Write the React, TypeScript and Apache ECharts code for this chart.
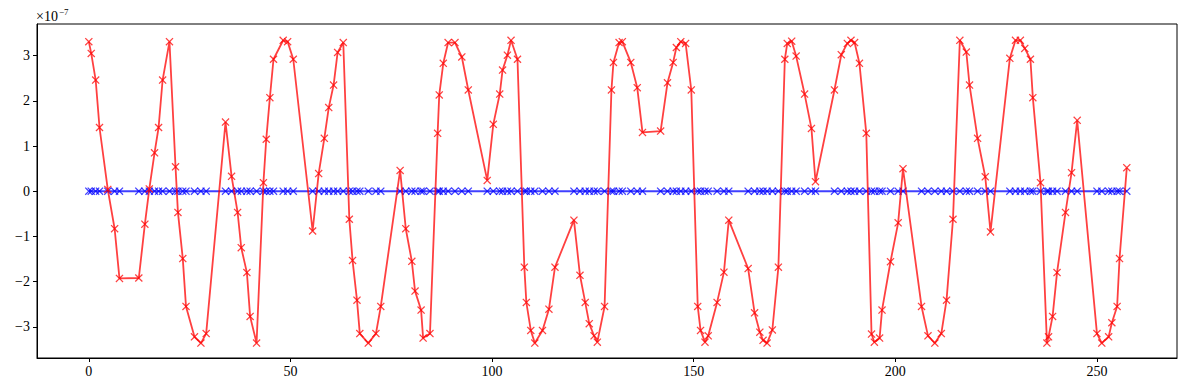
import React, { useEffect, useRef } from "react";
import * as echarts from "echarts";

// sample positions (shared by both series)
const xs = [
  0, 0.6, 1.7, 2.65, 4.7, 6.4, 7.6,
  12.4, 13.9, 15.0, 16.3, 17.3, 18.3, 20.0,
  21.5, 22.1, 23.3, 24.1, 26.2, 27.8, 29.1,
  33.9, 35.4, 36.9, 37.8, 39.2, 40.0, 41.6,
  43.3, 44.0, 44.9, 45.8, 48.2, 49.3, 50.7,
  55.5, 57.0, 58.4, 59.5, 60.7, 61.7, 63.1,
  64.6, 65.4, 66.5, 67.2, 69.3, 71.2, 72.4,
  77.2, 78.6, 80.1, 80.9, 82.4, 82.9, 84.6,
  86.5, 86.9, 87.9, 89.1, 90.8, 92.5, 94.1,
  98.8, 100.3, 101.9, 102.6, 103.8, 104.7, 106.3,
  108.0, 108.5, 109.6, 110.6, 112.5, 114.1, 115.6,
  120.3, 121.8, 123.1, 124.1, 125.3, 126.1, 127.9,
  129.6, 130.1, 131.5, 132.3, 134.4, 136.0, 137.3,
  141.8, 143.5, 144.9, 145.7, 146.8, 148.0, 149.4,
  151.0, 151.7, 152.8, 153.6, 155.8, 157.5, 158.7,
  163.5, 165.1, 166.4, 167.2, 168.2, 169.5, 171.0,
  172.6, 173.2, 174.3, 175.4, 177.5, 179.2, 180.2,
  184.9, 186.6, 188.1, 189.0, 189.9, 191.1, 192.8,
  194.1, 194.8, 196.1, 196.7, 198.8, 200.7, 201.9,
  206.5, 208.1, 209.8, 211.4, 212.7, 214.3, 216.0,
  217.6, 218.4, 220.4, 222.3, 223.6, 228.4, 229.8,
  231.0, 232.1, 233.5, 234.1, 236.0, 237.6, 238.0,
  239.0, 240.1, 242.2, 243.7, 245.1, 250.0, 251.2,
  252.9, 253.7, 255.0, 255.6, 257.4,
];

// red series, in units of 1e-7
const redE7 = [
  3.31, 3.05, 2.46, 1.41, 0.04, -0.83, -1.93,
  -1.92, -0.73, 0.05, 0.85, 1.41, 2.46, 3.31,
  0.54, -0.47, -1.49, -2.55, -3.22, -3.36, -3.15,
  1.53, 0.33, -0.47, -1.25, -1.8, -2.77, -3.36,
  0.19, 1.15, 2.07, 2.92, 3.34, 3.31, 2.92,
  -0.88, 0.39, 1.17, 1.85, 2.35, 3.07, 3.29,
  -0.62, -1.53, -2.41, -3.15, -3.36, -3.15, -2.55,
  0.46, -0.83, -1.55, -2.21, -2.63, -3.25, -3.15,
  1.28, 2.13, 2.83, 3.29, 3.29, 2.97, 2.24,
  0.24, 1.48, 2.15, 2.68, 3.01, 3.34, 2.92,
  -1.68, -2.46, -3.08, -3.36, -3.08, -2.61, -1.68,
  -0.64, -1.86, -2.46, -2.93, -3.2, -3.34, -2.55,
  2.24, 2.85, 3.29, 3.31, 2.85, 2.29, 1.3,
  1.33, 2.4, 2.85, 3.18, 3.31, 3.27, 2.24,
  -2.55, -3.08, -3.34, -3.2, -2.46, -1.79, -0.64,
  -1.71, -2.69, -3.12, -3.3, -3.36, -3.07, -1.68,
  2.92, 3.27, 3.32, 2.99, 2.15, 1.39, 0.21,
  2.24, 3.02, 3.27, 3.34, 3.29, 2.83, 1.28,
  -3.16, -3.34, -3.25, -2.63, -1.56, -0.7, 0.5,
  -2.55, -3.2, -3.36, -3.15, -2.41, -0.62, 3.34,
  3.08, 2.35, 1.17, 0.32, -0.9, 2.94, 3.34,
  3.34, 3.16, 2.92, 2.07, 0.19, -3.36, -3.22,
  -2.77, -1.8, -0.47, 0.41, 1.57, -3.15, -3.36,
  -3.22, -2.91, -2.55, -1.49, 0.52,
];

// blue series, in units of 1e-7
const blueE7 = xs.map(() => 0);

const xTicks = [0, 50, 100, 150, 200, 250];
const yTicks = [-3, -2, -1, 0, 1, 2, 3];

const FONT = "'Liberation Serif', 'DejaVu Serif', serif";
const XMARK =
  "path://M1.1,0 L5,3.9 L8.9,0 L10,1.1 L6.1,5 L10,8.9 L8.9,10 L5,6.1 L1.1,10 L0,8.9 L3.9,5 L0,1.1 Z";

export default function App() {
  const ref = useRef<HTMLDivElement>(null);
  useEffect(() => {
    if (!ref.current) return;
    const chart = echarts.init(ref.current, undefined, { renderer: "svg" });
    const red = xs.map((x, i) => [x, redE7[i]]);
    const blue = xs.map((x, i) => [x, blueE7[i]]);
    chart.setOption({
      animation: false,
      backgroundColor: "#fff",
      grid: {
        left: 37,
        right: 12,
        top: 24,
        bottom: 32,
        show: true,
        borderColor: "#000",
        borderWidth: 1,
        backgroundColor: "transparent",
      },
      xAxis: {
        type: "value",
        min: -12.85,
        max: 269.85,
        splitLine: { show: false },
        axisLine: { onZero: false, lineStyle: { color: "#000", width: 1 } },
        axisTick: {
          show: true,
          length: 4,
          inside: false,
          customValues: xTicks,
          lineStyle: { color: "#000" },
        },
        axisLabel: {
          customValues: xTicks,
          color: "#000",
          fontFamily: FONT,
          fontSize: 14,
          margin: 6,
        },
      },
      yAxis: {
        type: "value",
        min: -3.69,
        max: 3.7,
        splitLine: { show: false },
        axisLine: { onZero: false, lineStyle: { color: "#000", width: 1 } },
        axisTick: {
          show: true,
          length: 4,
          inside: false,
          customValues: yTicks,
          lineStyle: { color: "#000" },
        },
        axisLabel: {
          customValues: yTicks,
          color: "#000",
          fontFamily: FONT,
          fontSize: 14,
          margin: 7,
          formatter: (v: number) => (v < 0 ? "\u2212" + Math.abs(v) : String(v)),
        },
      },
      graphic: [
        {
          type: "text",
          left: 36,
          top: 9,
          style: { text: "\u00d710", font: `14px ${FONT}`, fill: "#000" },
        },
        {
          type: "text",
          left: 59,
          top: 7,
          style: { text: "\u22127", font: `9px ${FONT}`, fill: "#000" },
        },
      ],
      series: [
        {
          type: "line",
          data: blue,
          showSymbol: true,
          showAllSymbol: true,
          symbol: XMARK,
          symbolSize: 8,
          lineStyle: { color: "rgba(0,0,255,0.75)", width: 1.8 },
          itemStyle: { color: "rgba(0,0,255,0.75)" },
          z: 2,
        },
        {
          type: "line",
          data: red,
          showSymbol: true,
          showAllSymbol: true,
          symbol: XMARK,
          symbolSize: 8,
          lineStyle: { color: "rgba(255,0,0,0.75)", width: 1.8 },
          itemStyle: { color: "rgba(255,0,0,0.75)" },
          z: 3,
        },
      ],
    });
    return () => chart.dispose();
  }, []);
  return (
    <div
      ref={ref}
      style={{ position: "absolute", left: 0, top: 0, width: 1189, height: 390 }}
    />
  );
}
